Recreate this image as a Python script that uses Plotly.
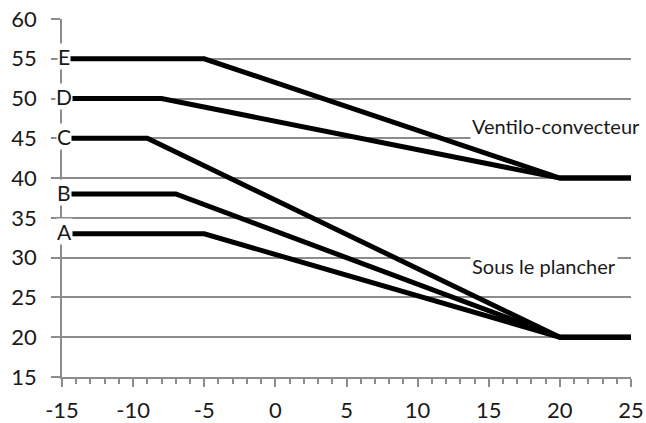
import plotly.graph_objects as go

names = ["A", "B", "C", "D", "E"]
x_pts = {
    "A": [-15, -5, 20, 25],
    "B": [-15, -7, 20, 25],
    "C": [-15, -9, 20, 25],
    "D": [-15, -8, 20, 25],
    "E": [-15, -5, 20, 25],
}
y_pts = {
    "A": [33, 33, 20, 20],
    "B": [38, 38, 20, 20],
    "C": [45, 45, 20, 20],
    "D": [50, 50, 40, 40],
    "E": [55, 55, 40, 40],
}
x_ticks = [-15, -10, -5, 0, 5, 10, 15, 20, 25]
x_ticktext = ["-15", "-10", "-5", "0", "5", "10", "15", "20", "25"]
y_ticks = [15, 20, 25, 30, 35, 40, 45, 50, 55, 60]
group_labels = ["Ventilo-convecteur", "Sous le plancher"]
group_pos = [(19.7, 46.5), (18.9, 29.0)]

grid = "#8c8c8c"
font = "Lato"
txt = "#1a1a1a"

fig = go.Figure()
for n in names:
    fig.add_trace(go.Scatter(x=x_pts[n], y=y_pts[n], mode="lines",
                             line=dict(color="black", width=5), showlegend=False,
                             hoverinfo="skip"))

for n in names:
    fig.add_annotation(x=x_pts[n][0], y=y_pts[n][0], text=n, showarrow=False,
                       xref="x", yref="y", bgcolor="white", borderpad=0,
                       font=dict(family=font, size=21, color=txt), xshift=2, yshift=2)

for t, (gx, gy) in zip(group_labels, group_pos):
    fig.add_annotation(x=gx, y=gy, text=t, showarrow=False, xref="x", yref="y",
                       bgcolor="white", borderpad=1,
                       font=dict(family=font, size=20, color=txt))

fig.update_layout(
    width=646, height=423,
    margin=dict(l=62, r=15, t=19, b=46),
    plot_bgcolor="white", paper_bgcolor="white",
    font=dict(family=font, size=22, color=txt),
    xaxis=dict(range=[-15, 25], tickmode="array", tickvals=x_ticks, ticktext=x_ticktext,
               showgrid=False, zeroline=False, automargin=False,
               showline=True, linecolor=grid, linewidth=1.5,
               ticks="outside", ticklen=8, tickcolor=grid, tickwidth=1.5,
               minor=dict(dtick=1, tick0=-15, ticks="outside", ticklen=5, tickcolor=grid, tickwidth=1.5),
               tickfont=dict(size=22, family=font, color=txt), ticklabelstandoff=5),
    yaxis=dict(range=[15, 60], tickmode="array", tickvals=y_ticks,
               showgrid=True, gridcolor=grid, gridwidth=1.5, automargin=False,
               zeroline=False, showline=True, linecolor=grid, linewidth=1.5,
               ticks="outside", ticklen=9, tickcolor=grid, tickwidth=1.5,
               tickfont=dict(size=22, family=font, color=txt), ticklabelstandoff=10),
)

fig.write_html("out.html")
